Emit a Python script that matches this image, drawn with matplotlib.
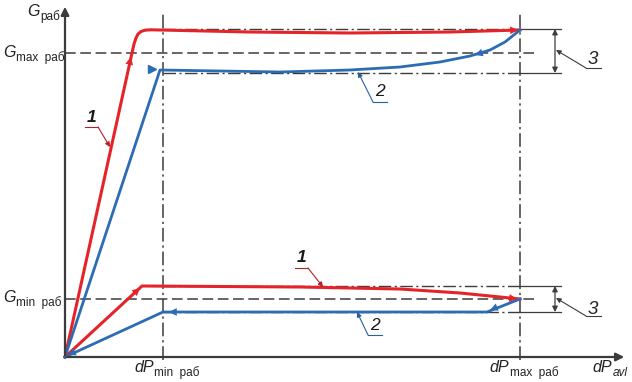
import matplotlib.pyplot as plt

# coordinates: origin of the diagram at (0, 0), units ~ pixels
dp_min, dp_max = 98, 455
g_max, g_min = 304, 58
up_top, up_bot = 328, 284
lo_top, lo_bot = 71, 45

# curves (1 - red, 2 - blue)
red_up_x = [0, 67, 69, 71, 73, 76, 80, 86, 185, 285, 385, 455]
red_up_y = [0, 304, 313, 319, 323, 325.5, 326.8, 327.2, 325, 324, 325, 327]
blue_up_x = [0, 95, 215, 285, 335, 375, 405, 425, 440, 455]
blue_up_y = [0, 287, 285, 287, 290, 295, 301, 307, 315, 327]
red_lo_x = [0, 77, 235, 335, 395, 455]
red_lo_y = [0, 71, 70, 68, 64, 58]
blue_lo_x = [455, 422, 98, 0]
blue_lo_y = [58, 45, 45, 0]

# flow arrows: (tip, tail)
red_arrows = [((66, 300), (59, 270)), ((453, 327), (428, 326)),
              ((75, 69), (55, 51)), ((452, 58), (428, 61))]
blue_arrows = [((410, 302), (428, 308)), ((425, 47), (445, 55)),
               ((104, 45), (128, 45)), ((3, 2), (25, 12))]

RED = "#e5242a"
BLUE = "#2c6cb4"
GRAY = "#3c3c3c"
DRED = "#b02025"
DBLUE = "#2a5f9e"

fig = plt.figure(figsize=(6.32, 3.82), dpi=100)
ax = fig.add_axes([0, 0, 1, 1])
ax.set_xlim(-65, 567)
ax.set_ylim(-25, 357)
ax.axis("off")

dashdot = (9, 2.5, 1.5, 2.5)
dashed = (7, 3)

# axes with arrows
ax.annotate("", xy=(0, 353), xytext=(0, -1),
            arrowprops=dict(arrowstyle="-|>", color=GRAY, lw=1.6, mutation_scale=12))
ax.annotate("", xy=(562, 0), xytext=(-1, 0),
            arrowprops=dict(arrowstyle="-|>", color=GRAY, lw=1.6, mutation_scale=12))

# reference lines
for x in (dp_min, dp_max):
    ax.plot([x, x], [-3, 344], color=GRAY, lw=1.1, dashes=dashdot)
for y in (g_max, g_min):
    ax.plot([0, 470], [y, y], color=GRAY, lw=1.1, dashes=dashed)
for y in (up_top, up_bot, lo_top, lo_bot):
    ax.plot([dp_min, dp_max], [y, y], color=GRAY, lw=1.0, dashes=dashdot)
    ax.plot([dp_max, 496], [y, y], color=GRAY, lw=0.9)

# dimension arrows and leaders "3"
for top, bot, ty in ((up_top, up_bot, 297), (lo_top, lo_bot, 47)):
    ax.annotate("", xy=(490, top), xytext=(490, bot),
                arrowprops=dict(arrowstyle="<|-|>", color=GRAY, lw=0.9, mutation_scale=8,
                                shrinkA=0, shrinkB=0))
    mid = (top + bot) / 2
    ax.annotate("", xy=(491, mid + 1), xytext=(521, mid - 17),
                arrowprops=dict(arrowstyle="-|>", color=GRAY, lw=0.8, mutation_scale=7,
                                shrinkA=0, shrinkB=0))
    ax.plot([521, 536], [mid - 17, mid - 17], color=GRAY, lw=0.8)
    ax.text(528, ty, "3", fontsize=13.5, style="italic", ha="center", va="center",
            family="Liberation Sans", color="#222222")

# curves
ax.plot(red_up_x, red_up_y, color=RED, lw=2.2, solid_joinstyle="round")
ax.plot(blue_up_x, blue_up_y, color=BLUE, lw=2.0, solid_joinstyle="round")
ax.plot(red_lo_x, red_lo_y, color=RED, lw=2.2, solid_joinstyle="round")
ax.plot(blue_lo_x, blue_lo_y, color=BLUE, lw=2.0, solid_joinstyle="round")
ax.plot([87], [288], marker=">", color=BLUE, ms=6)

for (tip, tail) in red_arrows:
    ax.annotate("", xy=tip, xytext=tail,
                arrowprops=dict(arrowstyle="-|>", color=RED, lw=0, mutation_scale=14,
                                shrinkA=0, shrinkB=0))
for (tip, tail) in blue_arrows:
    ax.annotate("", xy=tip, xytext=tail,
                arrowprops=dict(arrowstyle="-|>", color=BLUE, lw=0, mutation_scale=14,
                                shrinkA=0, shrinkB=0))

# leaders "1" and "2"
leaders = [((45, 210), (33, 230), (20, 230), (27, 240), "1", DRED),
           ((258, 70), (243, 89), (230, 89), (237, 99), "1", DRED),
           ((293, 285), (308, 255), (322, 255), (315, 265), "2", DBLUE),
           ((292, 45), (303, 22), (317, 22), (310, 32), "2", DBLUE)]
for tip, knee, end, tpos, lab, c in leaders:
    ax.annotate("", xy=tip, xytext=knee,
                arrowprops=dict(arrowstyle="-|>", color=c, lw=0.8, mutation_scale=7,
                                shrinkA=0, shrinkB=0))
    ax.plot([knee[0], end[0]], [knee[1], end[1]], color=c, lw=0.8)
    ax.text(tpos[0], tpos[1], lab, fontsize=12.5, style="italic",
            fontweight="bold" if lab == "1" else "normal",
            ha="center", va="center", family="Liberation Sans", color="#1a1a1a")

# axis labels
def label(x, y, main, sub, dx, dy=-4, sub_italic=False):
    ax.text(x, y, main, fontsize=11.5, style="italic", family="Liberation Sans",
            ha="left", va="baseline", color="#222222")
    ax.text(x + dx, y + dy, sub, fontsize=8.5, family="Liberation Sans",
            style="italic" if sub_italic else "normal",
            ha="left", va="baseline", color="#222222")

label(-38, 341, "G", "раб", 13)
label(-62, 300, "G", "max  раб", 13)
label(-62, 55, "G", "min  раб", 13)
label(69, -15, "dP", "min  раб", 20)
label(424, -15, "dP", "max  раб", 21)
label(527, -15, "dP", "avl", 21, sub_italic=True)

fig.savefig("out.png", dpi=100)
